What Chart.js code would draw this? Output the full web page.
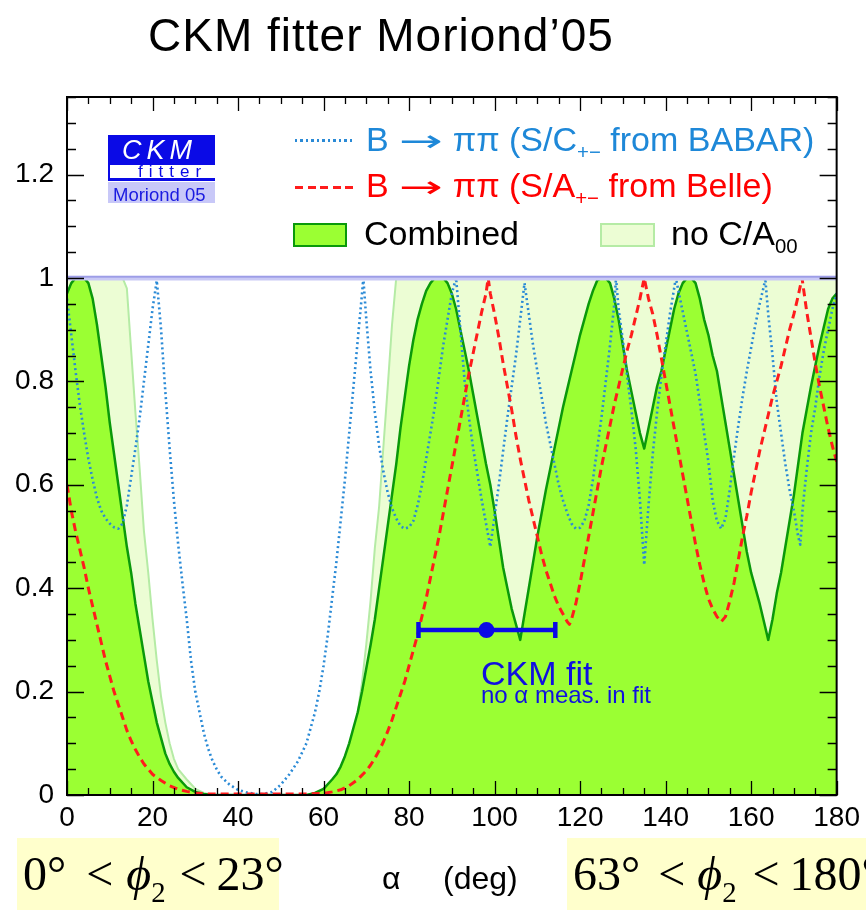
<!DOCTYPE html>
<html><head><meta charset="utf-8">
<script src="https://cdn.jsdelivr.net/npm/chart.js@4/dist/chart.umd.min.js"></script>
<style>
html,body{margin:0;padding:0;background:#fff;}
#wrap{position:relative;width:866px;height:910px;overflow:hidden;font-family:"Liberation Sans",Arial,Helvetica,sans-serif;}
#c{position:absolute;left:0;top:0;}
.t{position:absolute;white-space:nowrap;line-height:1;}
.sub{position:relative;top:0.4em;font-size:0.6em;}
.box{position:absolute;}
.serif{font-family:"Liberation Serif","Times New Roman",serif;font-size:48px;color:#000;}
.serif .g{display:inline-block;}
.arr{display:inline-block;width:64px;text-align:center;}
.arr span{display:inline-block;font-family:"DejaVu Sans",sans-serif;font-size:30px;transform:scaleX(1.75);}
</style></head>
<body><div id="wrap">
<canvas id="c" width="866" height="910"></canvas>

<div class="t" style="left:148px;top:12px;font-size:46px;letter-spacing:1px;color:#000;">CKM fitter Moriond’05</div>

<!-- CKMfitter logo -->
<div class="box" style="left:108px;top:135px;width:107px;height:30px;background:#0a0ae6;"></div>
<div class="t" style="left:122px;top:137px;font-size:27px;font-style:italic;color:#fff;letter-spacing:5px;">CKM</div>
<div class="box" style="left:108px;top:165px;width:107px;height:16px;background:#fff;border-left:2px solid #0a0ae6;border-bottom:3px solid #0a0ae6;box-sizing:border-box;"></div>
<div class="t" style="left:138px;top:163px;font-size:17px;color:#0a0ae6;letter-spacing:6px;">fitter</div>
<div class="box" style="left:108px;top:182px;width:107px;height:21px;background:#c8c8f8;"></div>
<div class="t" style="left:113px;top:185.5px;font-size:18.5px;color:#1a1ae0;">Moriond 05</div>

<!-- legend -->
<div class="box" style="left:295px;top:139px;width:58px;height:2.5px;background:repeating-linear-gradient(to right,#2a8ad6 0 2.5px,transparent 2.5px 5.5px);"></div>
<div class="t" style="left:366px;top:122px;font-size:34px;color:#1e88d8;">B<span class="arr"><span>→</span></span>ππ (S/C<span class="sub">+−</span> from BABAR)</div>
<div class="box" style="left:295px;top:185.5px;width:58px;height:3px;background:repeating-linear-gradient(to right,#ff1c1c 0 8px,transparent 8px 12.5px);"></div>
<div class="t" style="left:366px;top:168px;font-size:34px;color:#ff0000;">B<span class="arr"><span>→</span></span>ππ (S/A<span class="sub">+−</span> from Belle)</div>
<div class="box" style="left:293px;top:223px;width:54px;height:24px;background:#9bff33;border:2.5px solid #0a990a;box-sizing:border-box;"></div>
<div class="t" style="left:364px;top:216px;font-size:34px;color:#000;">Combined</div>
<div class="box" style="left:600px;top:223px;width:55px;height:24px;background:#ecfdd4;border:2.5px solid #b5eba5;box-sizing:border-box;"></div>
<div class="t" style="left:671px;top:216px;font-size:34px;color:#000;">no C/A<span class="sub">00</span></div>

<!-- CKM fit annotation -->
<div class="t" style="left:481px;top:656px;font-size:34px;color:#1010e0;">CKM fit</div>
<div class="t" style="left:481px;top:683px;font-size:24px;color:#1010e0;">no α meas. in fit</div>

<!-- axis title -->
<div class="t" style="left:382px;top:862px;font-size:32px;color:#000;">α</div>
<div class="t" style="left:443px;top:862px;font-size:32px;color:#000;">(deg)</div>

<!-- phi2 ranges -->
<div class="box" style="left:17px;top:838px;width:262px;height:72px;background:#ffffcc;"></div>
<div class="t serif" style="left:23px;top:850px;">0°<span class="g" style="margin-left:20px;">&lt;</span><span class="g" style="margin-left:13px;font-style:italic;">ϕ</span><span class="sub">2</span><span class="g" style="margin-left:14px;">&lt;</span><span class="g" style="margin-left:10px;">23°</span></div>
<div class="box" style="left:567px;top:838px;width:299px;height:72px;background:#ffffcc;"></div>
<div class="t serif" style="left:573px;top:850px;">63°<span class="g" style="margin-left:18px;">&lt;</span><span class="g" style="margin-left:12px;font-style:italic;">ϕ</span><span class="sub">2</span><span class="g" style="margin-left:16px;">&lt;</span><span class="g" style="margin-left:10px;">180°</span></div>
</div>

<script>
// ---- data (alpha in degrees, 1 - CL) ----
const combinedAlpha = [
  0,1,2,3,4,5,6,7,8,9,
  10,11,12,13,14,15,16,17,18,19,
  20,21,22,23,24,25,26,28,30,32,
  34,56,58,60,62,63,64,65,66,67,
  68,69,70,71,72,73,74,75,76,77,
  78,79,80,81,82,83,84,85,86,87,
  88,89,90,91,92,93,94,95,96,97,
  98,99,100,101,102,103,104,105,106,107,
  108,109,110,111,112,113,114,115,116,117,
  118,119,120,121,122,123,124,125,126,127,
  128,129,130,131,132,133,134,135,136,137,
  138,139,140,141,142,143,144,145,146,147,
  148,149,150,151,152,153,154,155,156,157,
  158,159,160,161,162,163,164,165,166,167,
  168,169,170,171,172,173,174,175,176,177,
  178,179,180];
const combinedCL = [
  0.97,0.99,1,1,1,0.99,0.96,0.91,0.85,0.79,
  0.72,0.66,0.60,0.54,0.48,0.43,0.37,0.32,0.27,0.22,
  0.18,0.14,0.11,0.08,0.06,0.045,0.033,0.015,0.006,0.002,
  0,0,0.004,0.012,0.03,0.04,0.055,0.075,0.1,0.13,
  0.16,0.2,0.245,0.29,0.34,0.4,0.46,0.52,0.58,0.64,
  0.71,0.77,0.83,0.88,0.92,0.95,0.975,0.99,1,1,
  1,0.99,0.97,0.94,0.9,0.86,0.82,0.775,0.73,0.685,
  0.64,0.6,0.55,0.495,0.44,0.4,0.36,0.33,0.30,0.35,
  0.40,0.45,0.50,0.545,0.59,0.63,0.67,0.71,0.75,0.785,
  0.82,0.855,0.89,0.92,0.95,0.975,0.995,1,1,0.99,
  0.96,0.92,0.87,0.82,0.78,0.74,0.70,0.67,0.71,0.75,
  0.79,0.82,0.86,0.90,0.94,0.97,0.99,1,1,0.99,
  0.96,0.92,0.89,0.85,0.82,0.77,0.72,0.67,0.62,0.57,
  0.52,0.47,0.43,0.40,0.37,0.335,0.30,0.34,0.39,0.43,
  0.48,0.53,0.58,0.64,0.70,0.745,0.79,0.83,0.87,0.905,
  0.94,0.96,0.97];

const noC00Alpha = [
  0,13,14,15,16,17,18,19,20,21,
  22,23,24,25,26,28,30,32,34,56,
  58,60,62,64,65,66,67,68,69,70,
  71,72,73,74,75,76,77,180];
const noC00CL = [
  1,1,0.98,0.86,0.74,0.63,0.51,0.43,0.34,0.26,
  0.19,0.14,0.10,0.07,0.05,0.03,0.012,0.004,0,0,
  0.003,0.01,0.025,0.044,0.058,0.082,0.116,0.16,0.218,0.292,
  0.376,0.478,0.558,0.674,0.788,0.908,1,1];

const babarAlpha = [
  0,1,2,3,4,5,6,7,8,9,
  10,11,12,13,14,15,16,17,18,19,
  20,21,22,23,24,25,26,27,28,29,
  30,31,32,33,34,35,36,38,40,42,
  44,46,48,50,52,54,56,57,58,59,
  60,61,62,63,64,65,66,67,68,69,
  69.3,70,71,72,73,74,75,76,77,78,
  79,80,81,82,83,84,85,86,87,88,
  89,90,91,92,93,94,95,96,97,98,
  99,100,101,102,103,104,105,106,107,108,
  109,110,111,112,113,114,115,116,117,118,
  119,120,121,122,123,124,125,126,127,128,
  128.4,129,130,131,132,133,134,135,136,137,
  138,139,140,141,142,142.4,143,144,145,146,
  147,148,149,150,151,152,153,154,155,156,
  157,158,159,160,161,162,163,163.3,164,165,
  166,167,168,169,170,171,171.5,172,173,174,
  175,176,177,178,179,180];
const babarCL = [
  0.96,0.89,0.82,0.755,0.70,0.65,0.61,0.575,0.55,0.535,
  0.525,0.518,0.515,0.525,0.56,0.615,0.67,0.73,0.80,0.87,
  0.94,0.995,0.9,0.78,0.67,0.57,0.485,0.41,0.34,0.26,
  0.20,0.16,0.12,0.09,0.067,0.05,0.036,0.02,0.01,0.005,
  0.002,0.002,0.006,0.02,0.04,0.065,0.1,0.13,0.16,0.2,
  0.25,0.31,0.38,0.45,0.53,0.61,0.7,0.79,0.88,0.97,
  1.0,0.92,0.82,0.74,0.675,0.625,0.585,0.555,0.535,0.52,
  0.515,0.518,0.53,0.56,0.6,0.65,0.7,0.75,0.81,0.87,
  0.92,0.97,1.0,0.9,0.8,0.73,0.67,0.62,0.57,0.525,
  0.48,0.54,0.6,0.665,0.73,0.79,0.85,0.92,0.99,0.93,
  0.87,0.82,0.77,0.72,0.68,0.64,0.6,0.57,0.545,0.525,
  0.515,0.517,0.53,0.56,0.61,0.67,0.73,0.8,0.87,0.95,
  1.0,0.94,0.88,0.81,0.745,0.67,0.57,0.445,0.56,0.66,
  0.74,0.81,0.87,0.93,0.98,1.0,0.975,0.935,0.895,0.855,
  0.815,0.76,0.70,0.645,0.57,0.53,0.515,0.535,0.59,0.655,
  0.715,0.77,0.82,0.865,0.91,0.95,0.985,1.0,0.93,0.85,
  0.76,0.7,0.64,0.59,0.55,0.5,0.484,0.55,0.63,0.7,
  0.75,0.81,0.86,0.9,0.94,0.97];

const belleAlpha = [
  0,1,2,3,4,5,6,7,8,9,
  10,11,12,13,14,15,16,17,18,19,
  20,22,24,26,28,30,33,56,60,62,
  64,66,68,70,71,72,73,74,75,76,
  77,78,79,80,81,82,83,84,85,86,
  87,88,89,90,91,92,93,94,95,96,
  97,98,98.5,99,100,101,102,103,104,105,
  106,107,108,109,110,111,112,113,114,115,
  116,117,117.5,118,119,120,121,122,123,124,
  125,126,127,128,129,130,131,132,133,134,
  135,136,137,138,139,140,141,142,143,144,
  145,146,147,148,149,150,151,152,153,154,
  155,156,157,158,159,160,161,162,163,164,
  165,166,167,168,169,170,171,171.9,173,174,
  175,176,177,178,179,180];
const belleCL = [
  0.60,0.55,0.51,0.475,0.44,0.40,0.365,0.33,0.295,0.26,
  0.23,0.20,0.175,0.15,0.125,0.105,0.088,0.073,0.06,0.05,
  0.04,0.028,0.018,0.011,0.007,0.004,0.002,0.002,0.003,0.006,
  0.01,0.018,0.03,0.047,0.058,0.071,0.086,0.103,0.123,0.145,
  0.17,0.195,0.22,0.25,0.28,0.31,0.345,0.38,0.42,0.46,
  0.5,0.545,0.59,0.635,0.68,0.725,0.77,0.815,0.855,0.895,
  0.935,0.97,1.0,0.97,0.93,0.885,0.835,0.79,0.745,0.695,
  0.65,0.61,0.57,0.535,0.5,0.465,0.435,0.41,0.385,0.365,
  0.35,0.335,0.33,0.34,0.37,0.41,0.455,0.5,0.545,0.59,
  0.635,0.675,0.715,0.755,0.79,0.825,0.86,0.89,0.925,0.96,
  1.0,0.96,0.93,0.89,0.845,0.8,0.755,0.71,0.665,0.62,
  0.575,0.53,0.485,0.445,0.41,0.38,0.36,0.345,0.335,0.345,
  0.375,0.41,0.455,0.5,0.54,0.585,0.625,0.665,0.7,0.735,
  0.77,0.8,0.83,0.865,0.9,0.93,0.965,1.0,0.935,0.885,
  0.835,0.79,0.75,0.71,0.675,0.645];

// CKM fit prediction for alpha (central value and interval) at its display level
const ckmFitAlpha = [82.2, 98.1, 114.2];   // low, central, high
const ckmFitLevel = 0.319;

// axis ticks
const xTickValues = [0,20,40,60,80,100,120,140,160,180];
const yTickValues = [0,0.2,0.4,0.6,0.8,1,1.2];

// ---- build chart ----
const pts = (xs, ys) => xs.map((a, i) => ({x: a, y: ys[i]}));
const ckmBlue = '#0a0ae6';
const FONT = '"Liberation Sans", Arial, Helvetica, sans-serif';

const rootFrame = {
  id: 'rootFrame',
  afterDatasetsDraw(chart) {
    const {ctx, chartArea: {left, right, top, bottom}, scales: {x, y}} = chart;
    ctx.save();
    const y1 = y.getPixelForValue(1);
    ctx.strokeStyle = '#c9c9f5'; ctx.lineWidth = 5;
    ctx.beginPath(); ctx.moveTo(left, y1); ctx.lineTo(right, y1); ctx.stroke();
    ctx.strokeStyle = '#8e8ee2'; ctx.lineWidth = 1.2;
    ctx.beginPath(); ctx.moveTo(left, y1 - 1); ctx.lineTo(right, y1 - 1); ctx.stroke();
    ctx.strokeStyle = '#000'; ctx.lineWidth = 1.3;
    ctx.beginPath();
    for (let a = 0; a <= 180; a += 5) {
      const px = Math.round(x.getPixelForValue(a)) + 0.5;
      const len = xTickValues.includes(a) ? 14 : 7;
      ctx.moveTo(px, bottom); ctx.lineTo(px, bottom - len);
      ctx.moveTo(px, top); ctx.lineTo(px, top + len);
    }
    for (let k = 0; k <= 27; k++) {
      const v = k * 0.05;
      const py = Math.round(y.getPixelForValue(v)) + 0.5;
      const len = (k % 4 === 0) ? 17 : 9;
      ctx.moveTo(left, py); ctx.lineTo(left + len, py);
      ctx.moveTo(right, py); ctx.lineTo(right - len, py);
    }
    ctx.stroke();
    ctx.lineWidth = 2;
    ctx.strokeRect(left, top, right - left, bottom - top);
    ctx.restore();
  }
};

new Chart(document.getElementById('c'), {
  type: 'line',
  data: {
    datasets: [
      { label: 'CKM fit interval', data: [{x: ckmFitAlpha[0], y: ckmFitLevel}, {x: ckmFitAlpha[2], y: ckmFitLevel}],
        borderColor: ckmBlue, borderWidth: 4.5, pointStyle: 'line', pointRotation: 90,
        pointRadius: 8, pointBorderWidth: 4.5, pointBorderColor: ckmBlue, fill: false, order: 0 },
      { label: 'CKM fit', data: [{x: ckmFitAlpha[1], y: ckmFitLevel}], showLine: false,
        pointRadius: 8, pointBackgroundColor: ckmBlue, pointBorderColor: ckmBlue, pointBorderWidth: 0, order: 0 },
      { label: 'B→ππ (S/A+− from Belle)', data: pts(belleAlpha, belleCL), borderColor: '#ff1c1c',
        borderWidth: 3, borderDash: [8, 5], borderJoinStyle: 'round', pointRadius: 0, fill: false, tension: 0, order: 1 },
      { label: 'B→ππ (S/C+− from BABAR)', data: pts(babarAlpha, babarCL), borderColor: '#2a8ad6',
        borderWidth: 2.6, borderDash: [2, 3], borderJoinStyle: 'round', pointRadius: 0, fill: false, tension: 0, order: 2 },
      { label: 'Combined', data: pts(combinedAlpha, combinedCL), borderColor: '#0a990a',
        borderWidth: 2.5, borderJoinStyle: 'round', backgroundColor: '#9bff33', fill: 'origin', pointRadius: 0, tension: 0, order: 3 },
      { label: 'no C/A00', data: pts(noC00Alpha, noC00CL), borderColor: '#b5eba5',
        borderWidth: 2, borderJoinStyle: 'round', backgroundColor: '#ecfdd4', fill: 'origin', pointRadius: 0, tension: 0, order: 4 }
    ]
  },
  options: {
    responsive: false,
    animation: false,
    devicePixelRatio: 1,
    layout: { padding: { left: 0, right: 19, top: 97, bottom: 0 } },
    plugins: { legend: { display: false }, tooltip: { enabled: false } },
    scales: {
      x: {
        type: 'linear', min: 0, max: 180,
        grid: { display: false, drawTicks: false }, border: { display: false },
        ticks: { stepSize: 20, color: '#000', font: { family: FONT, size: 28 }, padding: 6,
                 maxRotation: 0, autoSkip: false },
        afterFit(s) { s.height = 115; }
      },
      y: {
        type: 'linear', min: 0, max: 1.35,
        grid: { display: false, drawTicks: false }, border: { display: false },
        ticks: { stepSize: 0.2, includeBounds: false, color: '#000', font: { family: FONT, size: 28 }, padding: 13,
                 callback: v => (yTickValues.some(t => Math.abs(t - v) < 1e-6) ? String(+v.toFixed(1)) : '') },
        afterFit(s) { s.width = 67; }
      }
    }
  },
  plugins: [rootFrame]
});
</script>
</body></html>
